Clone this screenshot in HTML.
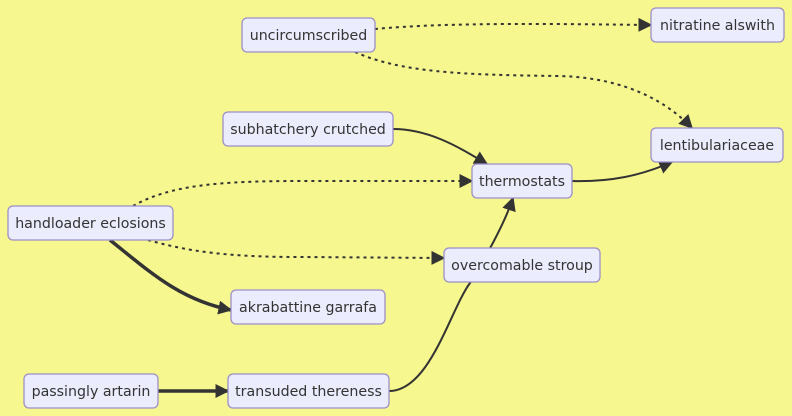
<!DOCTYPE html>
<html><head><meta charset="utf-8"><style>
html,body{margin:0;padding:0;background:#f7f78f;width:792px;height:416px;overflow:hidden}
svg{display:block}
text{font-family:"DejaVu Sans","Liberation Sans",sans-serif;font-size:14.2px;fill:#333}
.n rect{fill:#ececff;stroke:#9d8fc9;stroke-width:1.3}
.e{fill:none;stroke:#333;stroke-width:2}
.d{stroke-dasharray:3 4}
.t{stroke-width:3.5}
</style></head><body>
<svg width="792" height="416" viewBox="0 0 792 416">
<defs><marker id="ar2" viewBox="0 0 10 10" refX="9" refY="5" markerWidth="14" markerHeight="14" markerUnits="userSpaceOnUse" orient="auto"><path d="M0,0L10,5L0,10z" fill="#333"/></marker></defs>
<g>
<path class="e d" marker-end="url(#ar2)" d="M375,29 C450,22 560,24 651,25"/>
<path class="e d" marker-end="url(#ar2)" d="M355,52 C400,72 460,75 560,76 C630,78 670,105 692,128"/>
<path class="e" marker-end="url(#ar2)" d="M393,129 C430,129 460,148 487,164"/>
<path class="e" marker-end="url(#ar2)" d="M572,181 C610,182 640,176 672,162"/>
<path class="e d" marker-end="url(#ar2)" d="M133,206 C170,185 220,181 300,181 L472,181"/>
<path class="e d" marker-end="url(#ar2)" d="M148,240 C190,252 230,257 300,257 L444,258"/>
<path class="e t" marker-end="url(#ar2)" d="M110,240 C150,272 180,300 231,310"/>
<path class="e t" marker-end="url(#ar2)" d="M158,391 L228,391"/>
<path class="e" marker-end="url(#ar2)" d="M389,391 C430,391 450,310 470,283 C490,250 505,222 513,198"/>
</g>
<g class="n"><rect x="242" y="18" width="133" height="34" rx="5"/><text x="308.5" y="40" text-anchor="middle">uncircumscribed</text></g>
<g class="n"><rect x="651" y="8" width="133" height="34" rx="5"/><text x="717.5" y="30" text-anchor="middle">nitratine alswith</text></g>
<g class="n"><rect x="223" y="112" width="170" height="34" rx="5"/><text x="308" y="134" text-anchor="middle">subhatchery crutched</text></g>
<g class="n"><rect x="651" y="128" width="132" height="34" rx="5"/><text x="717" y="150" text-anchor="middle">lentibulariaceae</text></g>
<g class="n"><rect x="472" y="164" width="100" height="34" rx="5"/><text x="522" y="186" text-anchor="middle">thermostats</text></g>
<g class="n"><rect x="8" y="206" width="165" height="34" rx="5"/><text x="90.5" y="228" text-anchor="middle">handloader eclosions</text></g>
<g class="n"><rect x="444" y="248" width="156" height="34" rx="5"/><text x="522" y="270" text-anchor="middle">overcomable stroup</text></g>
<g class="n"><rect x="231" y="290" width="154" height="34" rx="5"/><text x="308" y="312" text-anchor="middle">akrabattine garrafa</text></g>
<g class="n"><rect x="24" y="374" width="134" height="34" rx="5"/><text x="91" y="396" text-anchor="middle">passingly artarin</text></g>
<g class="n"><rect x="228" y="374" width="161" height="34" rx="5"/><text x="308.5" y="396" text-anchor="middle">transuded thereness</text></g>
</svg>
</body></html>
